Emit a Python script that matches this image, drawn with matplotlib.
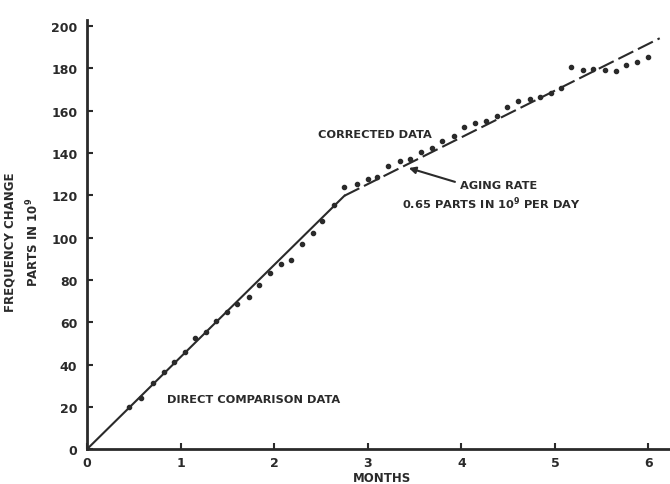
import matplotlib.pyplot as plt

direct_x = [0.45, 0.58, 0.70, 0.82, 0.93, 1.05, 1.15, 1.27, 1.38, 1.49, 1.60,
            1.73, 1.84, 1.96, 2.07, 2.18, 2.30, 2.41, 2.51, 2.64]
direct_y = [19.7, 24.1, 31.1, 36.6, 41.0, 46.0, 52.3, 55.6, 60.7, 64.6, 68.4,
            71.7, 77.5, 83.5, 87.3, 89.4, 96.9, 102.1, 107.8, 115.5]

corrected_x = [2.75, 2.88, 3.00, 3.10, 3.22, 3.34, 3.45, 3.57, 3.69, 3.79, 3.92,
               4.03, 4.15, 4.26, 4.38, 4.49, 4.61, 4.73, 4.84, 4.96, 5.07,
               5.17, 5.30, 5.41, 5.53, 5.65, 5.76, 5.88, 5.99]
corrected_y = [123.9, 125.5, 127.7, 128.7, 134.0, 136.3, 137.1, 140.3, 142.6,
               145.8, 148.1, 152.1, 154.1, 155.3, 157.5, 161.6, 164.7, 165.5,
               166.3, 168.2, 171.0, 180.8, 179.3, 179.7, 179.3, 178.9, 181.6,
               183.1, 185.5]

# fitted lines
fit1_x = [0, 2.75]
fit1_y = [0, 119.8]
fit2_x = [2.75, 6.12]
fit2_y = [119.8, 194.3]

xticks = [0, 1, 2, 3, 4, 5, 6]
yticks = [0, 20, 40, 60, 80, 100, 120, 140, 160, 180, 200]

ink = '#2a2a2a'
plt.rcParams['font.family'] = 'DejaVu Sans'
plt.rcParams['font.weight'] = 'bold'

fig = plt.figure(figsize=(6.7, 4.85), dpi=100)
ax = fig.add_axes([0.130, 0.072, 0.870, 0.885])

ax.plot(fit1_x, fit1_y, color=ink, lw=1.5)
ax.plot(fit2_x, fit2_y, color=ink, lw=1.5, dashes=(8, 2.5))
ax.plot(direct_x, direct_y, 'o', color=ink, ms=3)
ax.plot(corrected_x, corrected_y, 'o', color=ink, ms=3)

ax.set_xlim(0, 6.23)
ax.set_ylim(0, 203)
ax.set_xticks(xticks)
ax.set_yticks(yticks)
ax.tick_params(direction='in', length=4, width=1.5, colors=ink, labelsize=9, pad=7)
ax.tick_params(axis='x', pad=5)
for lab in ax.get_xticklabels() + ax.get_yticklabels():
    lab.set_fontweight('bold')
for s in ['top', 'right']:
    ax.spines[s].set_visible(False)
for s in ['left', 'bottom']:
    ax.spines[s].set_linewidth(2)
    ax.spines[s].set_color(ink)

ax.text(3.15, -13.6, 'MONTHS', ha='center', va='center', fontsize=8.5, color=ink)
fig.text(0.015, 0.50, 'FREQUENCY CHANGE', rotation=90, ha='center', va='center', fontsize=8.5, color=ink)
fig.text(0.049, 0.50, 'PARTS IN 10$^{9}$', rotation=90, ha='center', va='center', fontsize=8.5, color=ink)

ax.text(0.85, 23.6, 'DIRECT COMPARISON DATA', ha='left', va='center', fontsize=8.2, color=ink)
ax.text(3.08, 149, 'CORRECTED DATA', ha='center', va='center', fontsize=8.2, color=ink)
ax.text(3.99, 125, 'AGING RATE', ha='left', va='center', fontsize=8.2, color=ink)
ax.text(3.37, 116.5, '0.65 PARTS IN 10$^{9}$ PER DAY', ha='left', va='center', fontsize=8.2, color=ink)
ax.annotate('', xy=(3.41, 133.3), xytext=(3.96, 126),
            arrowprops=dict(arrowstyle='-|>', color=ink, lw=1.5, mutation_scale=10))

fig.savefig('out.png', dpi=100)
